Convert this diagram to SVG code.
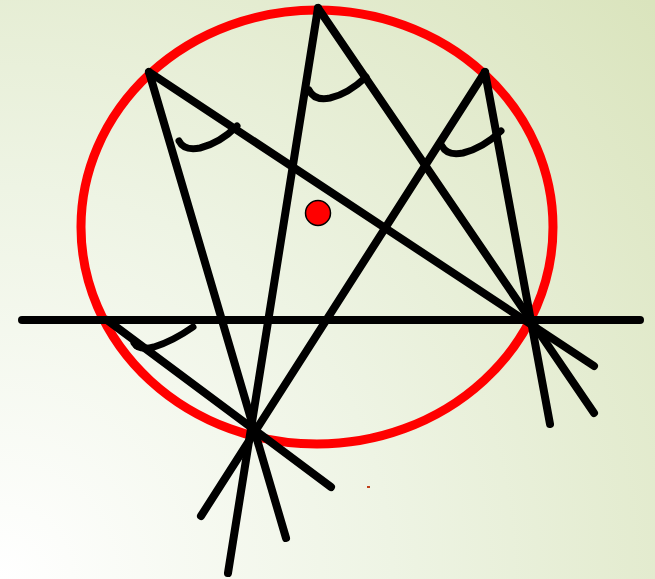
<svg xmlns="http://www.w3.org/2000/svg" width="655" height="579" viewBox="0 0 655 579">
<defs>
<radialGradient id="bg" cx="0" cy="579" r="870" gradientUnits="userSpaceOnUse">
<stop offset="0" stop-color="#ffffff"/>
<stop offset="0.45" stop-color="#eef4e4"/>
<stop offset="1" stop-color="#dae4bd"/>
</radialGradient>
<style>
.ln{stroke:#000;stroke-width:8;stroke-linecap:round;fill:none}
.arc{stroke:#000;stroke-width:7;stroke-linecap:round;fill:none}
</style>
</defs>
<rect width="655" height="579" fill="url(#bg)"/>
<g id="circle">
<ellipse cx="317" cy="227" rx="236" ry="217" fill="none" stroke="#ff0000" stroke-width="9"/>
</g>
<g id="connectors">
<line class="ln" x1="22" y1="320" x2="640" y2="320"/>
<line class="ln" x1="318" y1="8" x2="228" y2="573"/>
<line class="ln" x1="318" y1="8" x2="594" y2="413"/>
<line class="ln" x1="149" y1="72" x2="594" y2="366"/>
<line class="ln" x1="485" y1="72" x2="550" y2="424"/>
<line class="ln" x1="149" y1="72" x2="286" y2="538"/>
<line class="ln" x1="485" y1="72" x2="201" y2="516"/>
<line class="ln" x1="107" y1="320" x2="331" y2="487"/>
</g>
<g id="angles">
<path class="arc" d="M309,90 Q314,101 330,98 Q348,94 366,77"/>
<path class="arc" d="M179,141 Q184,151 200,148 Q220,143 237,126"/>
<path class="arc" d="M442,146 Q447,156 463,153 Q483,148 501,131"/>
<path class="arc" d="M134,343 Q139,351 154,347 Q173,341 193,327"/>
<circle cx="138" cy="345" r="5" fill="#000"/>
</g>
<g id="center">
<circle cx="318" cy="213" r="12.5" fill="#ff0000" stroke="#000" stroke-width="1.5"/>
</g>
<rect x="367" y="486" width="3" height="2" fill="#c0401a"/>
</svg>
